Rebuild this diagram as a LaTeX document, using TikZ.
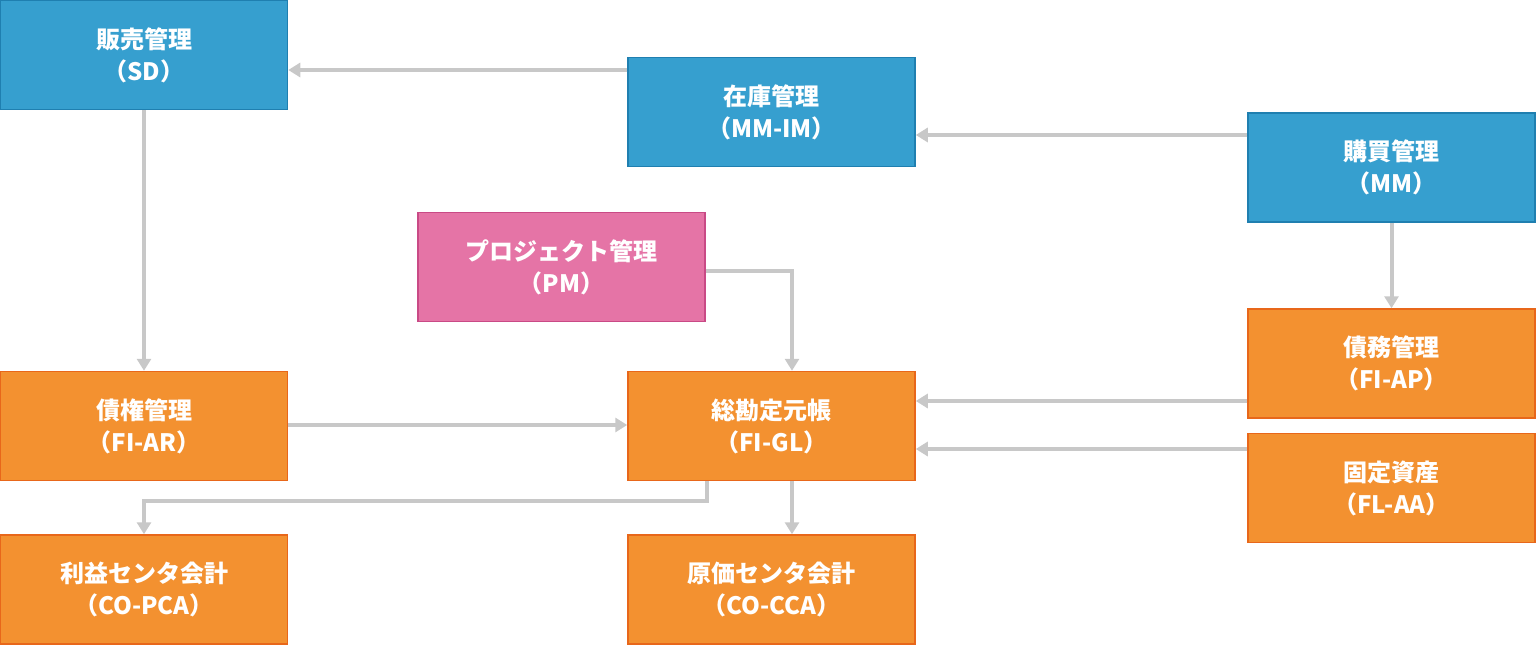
\documentclass[tikz,border=0pt]{standalone}
\usepackage{fontspec}
\setmainfont{Noto Sans CJK JP}
\usetikzlibrary{arrows.meta}
\definecolor{bl}{HTML}{369FCF}\definecolor{blb}{HTML}{1F7FB0}
\definecolor{or}{HTML}{F39130}\definecolor{orb}{HTML}{E8671A}
\definecolor{pk}{HTML}{E574A6}\definecolor{pkb}{HTML}{C94A86}
\definecolor{ar}{HTML}{C8C8C8}
\begin{document}
\begin{tikzpicture}[x=1pt,y=-1pt,
 box/.style={draw,line width=1.5pt,minimum width=287pt,minimum height=109pt,text=white,font=\bfseries\fontsize{24}{32}\selectfont,align=center,inner sep=0pt},
 B/.style={box,fill=bl,draw=blb},O/.style={box,fill=or,draw=orb},P/.style={box,fill=pk,draw=pkb},
 a/.style={draw=ar,line width=4pt,-{Triangle[length=12pt,width=14pt]}}]
\useasboundingbox (0,0) rectangle (1536,655);
\node[B] (sd) at (144,55) {販売管理\\（SD）};
\node[B] (im) at (771.5,112) {在庫管理\\（MM-IM）};
\node[B] (mm) at (1391.5,167.5) {購買管理\\（MM）};
\node[P] (pm) at (561.5,267) {プロジェクト管理\\（PM）};
\node[O] (ar) at (144,426) {債権管理\\（FI-AR）};
\node[O] (gl) at (771.5,426) {総勘定元帳\\（FI-GL）};
\node[O] (ap) at (1391.5,363.5) {債務管理\\（FI-AP）};
\node[O] (aa) at (1391.5,488) {固定資産\\（FL-AA）};
\node[O] (pca) at (144,589.5) {利益センタ会計\\（CO-PCA）};
\node[O] (cca) at (771.5,589.5) {原価センタ会計\\（CO-CCA）};
\draw[a] (im.west|-0,70) -- (sd.east|-0,70);
\draw[a] (mm.west|-0,135) -- (im.east|-0,135);
\draw[a] (sd.south) -- (ar.north);
\draw[a] (mm.south) -- (ap.north);
\draw[a] (pm.east|-0,271) -| (gl.north-|792,0);
\draw[a] (ar.east|-0,425) -- (gl.west|-0,425);
\draw[a] (ap.west|-0,401) -- (gl.east|-0,401);
\draw[a] (aa.west|-0,449) -- (gl.east|-0,449);
\draw[a] (gl.south-|707,0) -- (707,501) -| (pca.north);
\draw[a] (gl.south-|792,0) -- (cca.north-|792,0);
\end{tikzpicture}
\end{document}
